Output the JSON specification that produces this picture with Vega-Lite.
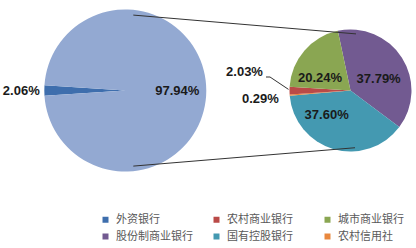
{
  "$schema": "https://vega.github.io/schema/vega-lite/v6.json",
  "width": 416,
  "height": 181,
  "autosize": {"type": "none"},
  "padding": {"left": 0, "top": 0, "right": 0, "bottom": 67},
  "background": "white",
  "config": {"view": {"stroke": null}},
  "data": {"values": [
    {"饼": "主饼", "类别": "外资银行", "占比": 2.06, "标签": "2.06%", "序": 1},
    {"饼": "主饼", "类别": "其他", "占比": 97.94, "标签": "97.94%", "序": 2},
    {"饼": "子饼", "类别": "股份制商业银行", "占比": 37.79, "标签": "37.79%", "序": 1},
    {"饼": "子饼", "类别": "国有控股银行", "占比": 37.60, "标签": "37.60%", "序": 2},
    {"饼": "子饼", "类别": "农村信用社", "占比": 0.29, "标签": "0.29%", "序": 3},
    {"饼": "子饼", "类别": "农村商业银行", "占比": 2.03, "标签": "2.03%", "序": 4},
    {"饼": "子饼", "类别": "城市商业银行", "占比": 20.24, "标签": "20.24%", "序": 5}
  ]},
  "layer": [
    {
      "transform": [{"filter": "datum['饼'] === '主饼'"}],
      "encoding": {
        "x": {"datum": "主饼", "type": "nominal", "scale": {"type": "point", "domain": ["主饼", "子饼"], "padding": 0.42362, "align": 0.65671}, "axis": null},
        "theta": {"field": "占比", "type": "quantitative", "stack": true, "scale": {"range": [4.64767, 10.93086]}},
        "order": {"field": "序", "type": "quantitative"}
      },
      "layer": [
        {
          "mark": {"type": "arc", "radius": 81},
          "encoding": {
            "color": {"field": "类别", "type": "nominal",
              "scale": {"domain": ["外资银行", "农村商业银行", "城市商业银行", "股份制商业银行", "国有控股银行", "农村信用社", "其他"],
                        "range": ["#3E6EAD", "#BA4A47", "#8AA652", "#725A91", "#4499B1", "#E9883E", "#93A9D2"]},
              "legend": {"orient": "none", "legendX": 100, "legendY": 214, "direction": "horizontal", "columns": 3, "gridAlign": "all",
                "columnPadding": 18, "rowPadding": 5, "symbolType": "square", "symbolSize": 36, "symbolStrokeWidth": 0,
                "labelFont": "Noto Sans CJK SC", "labelFontSize": 11, "labelColor": "#595959", "labelOffset": 5, "title": null,
                "values": ["外资银行", "农村商业银行", "城市商业银行", "股份制商业银行", "国有控股银行", "农村信用社"]}
            }
          }
        },
        {
          "mark": {"type": "text", "radius": 52, "font": "Liberation Sans", "fontSize": 13, "fontWeight": "bold", "fill": "#1a1a1a", "align": "center", "baseline": "middle"},
          "encoding": {"text": {"condition": {"test": "datum['类别'] === '其他'", "field": "标签", "type": "nominal"}, "value": ""}}
        },
        {
          "mark": {"type": "text", "radius": 104, "font": "Liberation Sans", "fontSize": 13, "fontWeight": "bold", "fill": "#1a1a1a", "align": "center", "baseline": "middle"},
          "encoding": {"text": {"condition": {"test": "datum['类别'] === '外资银行'", "field": "标签", "type": "nominal"}, "value": ""}}
        }
      ]
    },
    {
      "transform": [{"filter": "datum['饼'] === '子饼'"}],
      "encoding": {
        "x": {"datum": "子饼", "type": "nominal", "scale": {"type": "point", "domain": ["主饼", "子饼"], "padding": 0.42362, "align": 0.65671}, "axis": null},
        "theta": {"field": "占比", "type": "quantitative", "stack": true, "scale": {"range": [6.07375, 12.35693]}},
        "order": {"field": "序", "type": "quantitative"}
      },
      "layer": [
        {
          "mark": {"type": "arc", "radius": 61},
          "encoding": {
            "color": {"field": "类别", "type": "nominal",
              "scale": {"domain": ["外资银行", "农村商业银行", "城市商业银行", "股份制商业银行", "国有控股银行", "农村信用社", "其他"],
                        "range": ["#3E6EAD", "#BA4A47", "#8AA652", "#725A91", "#4499B1", "#E9883E", "#93A9D2"]},
              "legend": {"orient": "none", "legendX": 100, "legendY": 214, "direction": "horizontal", "columns": 3, "gridAlign": "all",
                "columnPadding": 18, "rowPadding": 5, "symbolType": "square", "symbolSize": 36, "symbolStrokeWidth": 0,
                "labelFont": "Noto Sans CJK SC", "labelFontSize": 11, "labelColor": "#595959", "labelOffset": 5, "title": null,
                "values": ["外资银行", "农村商业银行", "城市商业银行", "股份制商业银行", "国有控股银行", "农村信用社"]}
            }
          }
        },
        {
          "mark": {"type": "text", "radius": 31, "dx": 2, "dy": 5, "font": "Liberation Sans", "fontSize": 13, "fontWeight": "bold", "fill": "#1a1a1a", "align": "center", "baseline": "middle"},
          "encoding": {"text": {"condition": {"test": "datum['类别'] === '股份制商业银行'", "field": "标签", "type": "nominal"}, "value": ""}}
        },
        {
          "mark": {"type": "text", "radius": 31, "dx": -7, "dy": 7.7, "font": "Liberation Sans", "fontSize": 13, "fontWeight": "bold", "fill": "#1a1a1a", "align": "center", "baseline": "middle"},
          "encoding": {"text": {"condition": {"test": "datum['类别'] === '城市商业银行'", "field": "标签", "type": "nominal"}, "value": ""}}
        },
        {
          "mark": {"type": "text", "radius": 31, "dx": -15.3, "dy": -5, "font": "Liberation Sans", "fontSize": 13, "fontWeight": "bold", "fill": "#1a1a1a", "align": "center", "baseline": "middle"},
          "encoding": {"text": {"condition": {"test": "datum['类别'] === '国有控股银行'", "field": "标签", "type": "nominal"}, "value": ""}}
        },
        {
          "mark": {"type": "text", "radius": 106, "dx": 0, "dy": -18.4, "font": "Liberation Sans", "fontSize": 13, "fontWeight": "bold", "fill": "#1a1a1a", "align": "center", "baseline": "middle"},
          "encoding": {"text": {"condition": {"test": "datum['类别'] === '农村商业银行'", "field": "标签", "type": "nominal"}, "value": ""}}
        },
        {
          "mark": {"type": "text", "radius": 92, "dx": 1.7, "dy": 1.4, "font": "Liberation Sans", "fontSize": 13, "fontWeight": "bold", "fill": "#1a1a1a", "align": "center", "baseline": "middle"},
          "encoding": {"text": {"condition": {"test": "datum['类别'] === '农村信用社'", "field": "标签", "type": "nominal"}, "value": ""}}
        }
      ]
    },
    {
      "data": {"values": [{}]},
      "mark": {"type": "rule", "color": "#333333", "strokeWidth": 1, "xOffset": 8, "x2Offset": 5.5},
      "encoding": {
        "x": {"datum": "主饼", "type": "nominal"},
        "x2": {"datum": "子饼"},
        "y": {"datum": 1.0, "type": "quantitative", "scale": {"domain": [-1.1173, 1.1173]}, "axis": null},
        "y2": {"datum": 0.7506}
      }
    },
    {
      "data": {"values": [{}]},
      "mark": {"type": "rule", "color": "#333333", "strokeWidth": 1, "xOffset": 8, "x2Offset": 4.5},
      "encoding": {
        "x": {"datum": "主饼", "type": "nominal"},
        "x2": {"datum": "子饼"},
        "y": {"datum": -1.0025, "type": "quantitative"},
        "y2": {"datum": -0.759}
      }
    },
    {
      "data": {"values": [{}]},
      "mark": {"type": "rule", "color": "#333333", "strokeWidth": 1, "xOffset": -84.5, "x2Offset": -80.5},
      "encoding": {
        "x": {"datum": "子饼", "type": "nominal"},
        "x2": {"datum": "子饼"},
        "y": {"datum": 0.179, "type": "quantitative"},
        "y2": {"datum": 0.179}
      }
    },
    {
      "data": {"values": [{}]},
      "mark": {"type": "rule", "color": "#333333", "strokeWidth": 1, "xOffset": -80.5, "x2Offset": -62},
      "encoding": {
        "x": {"datum": "子饼", "type": "nominal"},
        "x2": {"datum": "子饼"},
        "y": {"datum": 0.179, "type": "quantitative"},
        "y2": {"datum": 0.0148}
      }
    }
  ],
  "resolve": {"scale": {"theta": "independent"}}
}
